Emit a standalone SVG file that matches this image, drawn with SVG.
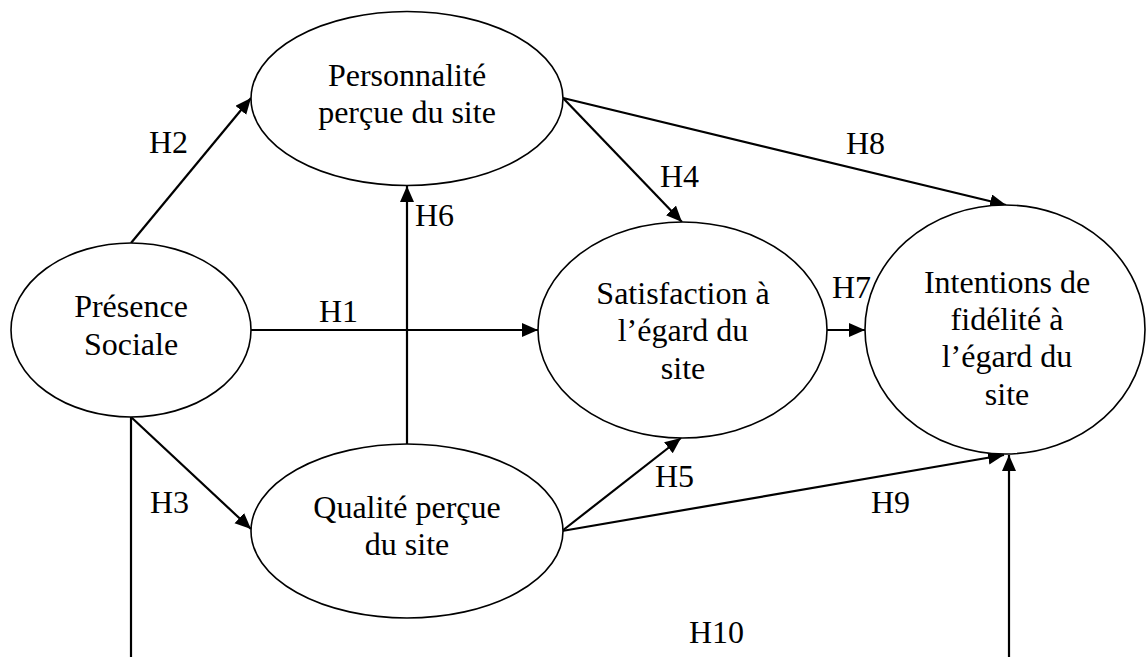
<svg xmlns="http://www.w3.org/2000/svg" width="1146" height="657" viewBox="0 0 1146 657" font-family="'Liberation Serif', 'Times New Roman', Tinos, 'DejaVu Serif', serif">
<style>
.node ellipse{fill:#fff;stroke:#000;stroke-width:1.6}
text{font-family:'Liberation Serif','Times New Roman',Tinos,'DejaVu Serif',serif;font-size:32px;fill:#000}
.node text{text-anchor:middle}
.edge{stroke:#000;stroke-width:2.2;fill:none}
.arr{marker-end:url(#ah)}
</style>
<defs>
<marker id="ah" markerUnits="userSpaceOnUse" markerWidth="17" markerHeight="15" refX="16" refY="7" orient="auto">
<path d="M0,0 L16,7 L0,14 z" fill="#000"/>
</marker>
</defs>
<rect width="1146" height="657" fill="#fff"/>
<g id="connectors">
<line class="edge arr" x1="131" y1="243" x2="251" y2="98"/>
<line class="edge arr" x1="251" y1="330" x2="538" y2="330"/>
<line class="edge arr" x1="131" y1="417" x2="251" y2="529"/>
<line class="edge" x1="131" y1="417" x2="131" y2="657"/>
<line class="edge arr" x1="407" y1="444" x2="407" y2="186"/>
<line class="edge arr" x1="563" y1="98" x2="682" y2="222"/>
<line class="edge arr" x1="563" y1="98" x2="1006" y2="205"/>
<line class="edge arr" x1="562" y1="531" x2="681" y2="438"/>
<line class="edge arr" x1="562" y1="531" x2="1004" y2="455"/>
<line class="edge arr" x1="827" y1="330" x2="865" y2="330"/>
<line class="edge arr" x1="1009" y1="657" x2="1009" y2="455"/>
<text x="149" y="153">H2</text>
<text x="319" y="322">H1</text>
<text x="150" y="513">H3</text>
<text x="415" y="226">H6</text>
<text x="660" y="187">H4</text>
<text x="846" y="154">H8</text>
<text x="832" y="298">H7</text>
<text x="655" y="487">H5</text>
<text x="871" y="513">H9</text>
<text x="689" y="643">H10</text>
</g>
<g id="presence" class="node">
<ellipse cx="131" cy="330" rx="120" ry="87"/>
<text x="131" y="317">Présence</text>
<text x="131" y="355">Sociale</text>
</g>
<g id="personnalite" class="node">
<ellipse cx="407" cy="98.5" rx="156" ry="87"/>
<text x="407" y="86">Personnalité</text>
<text x="407" y="123">perçue du site</text>
</g>
<g id="qualite" class="node">
<ellipse cx="407" cy="531" rx="156" ry="87"/>
<text x="407" y="518">Qualité perçue</text>
<text x="407" y="555">du site</text>
</g>
<g id="satisfaction" class="node">
<ellipse cx="682.5" cy="330" rx="144.5" ry="108"/>
<text x="683" y="304">Satisfaction à</text>
<text x="683" y="341">l’égard du</text>
<text x="683" y="379">site</text>
</g>
<g id="intentions" class="node">
<ellipse cx="1005" cy="329.5" rx="140" ry="124.5"/>
<text x="1007" y="293">Intentions de</text>
<text x="1007" y="330">fidélité à</text>
<text x="1007" y="367">l’égard du</text>
<text x="1007" y="405">site</text>
</g>
</svg>
